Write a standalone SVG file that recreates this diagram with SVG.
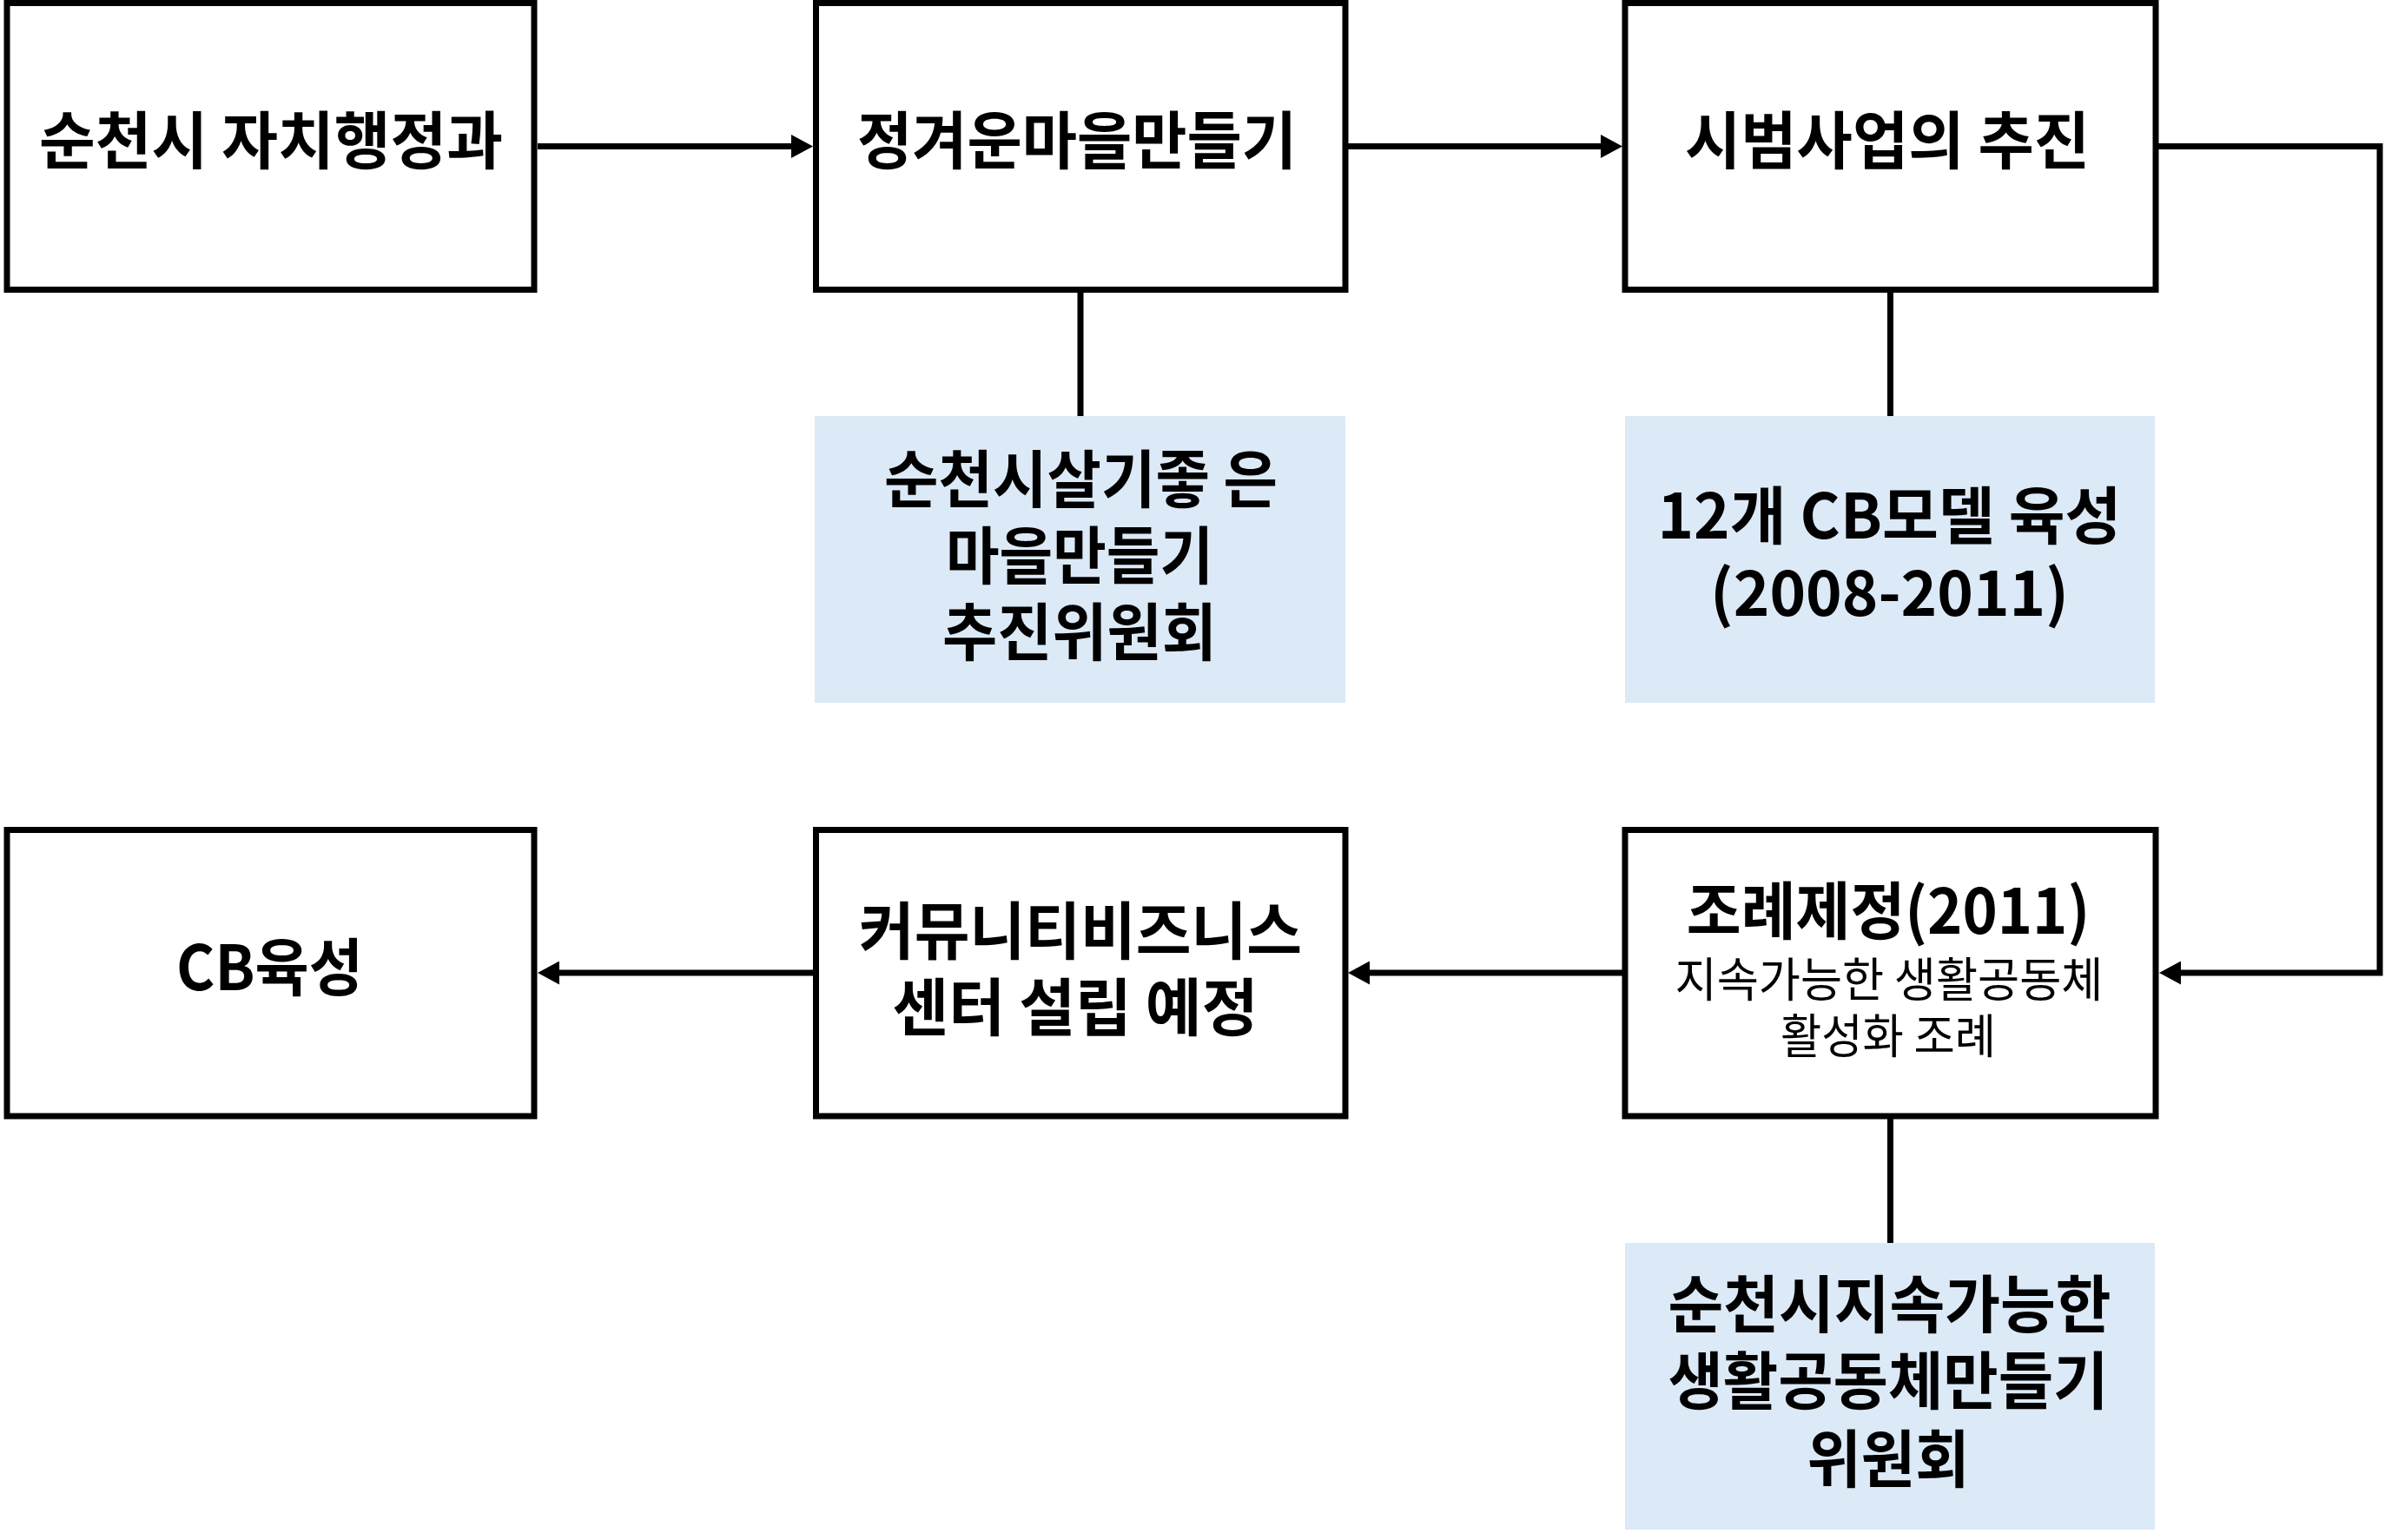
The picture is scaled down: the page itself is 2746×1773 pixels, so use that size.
<svg xmlns="http://www.w3.org/2000/svg" width="2746" height="1773" viewBox="0 0 2746 1773">
<style>
.box{fill:#ffffff;stroke:#000000;stroke-width:7}
.note{fill:#dce9f6;stroke:none}
.conn{fill:none;stroke:#000000;stroke-width:7;stroke-linejoin:miter}
text{font-family:"Noto Sans CJK KR","Noto Sans",sans-serif;fill:#000000;text-anchor:middle}
.b{font-size:72px;font-weight:700}
.r{font-size:54px;font-weight:400}
</style>
<defs>
<marker id="ah" markerUnits="userSpaceOnUse" markerWidth="25" markerHeight="27" refX="0" refY="13.5" orient="auto" viewBox="0 0 25 27">
<path d="M0,0 L25,13.5 L0,27 z" fill="#000000"/>
</marker>
</defs>
<rect width="2746" height="1773" fill="#ffffff"/>
<g id="connectors">
<path class="conn" d="M619 168.5 H911" marker-end="url(#ah)"/>
<path class="conn" d="M1552 168.5 H1843" marker-end="url(#ah)"/>
<path class="conn" d="M2485 168.5 H2740 V1120 H2511" marker-end="url(#ah)"/>
<path class="conn" d="M1868 1120 H1577" marker-end="url(#ah)"/>
<path class="conn" d="M936 1120 H644" marker-end="url(#ah)"/>
<path class="conn" d="M1244 337 V479"/>
<path class="conn" d="M2176.5 337 V479"/>
<path class="conn" d="M2176.5 1288 V1431"/>
</g>
<g id="node-1">
<rect class="box" x="8" y="3.5" width="607" height="330"/>
<text class="b" x="312" y="188" textLength="534" lengthAdjust="spacingAndGlyphs">순천시 자치행정과</text>
</g>
<g id="node-2">
<rect class="box" x="939.5" y="3.5" width="609.5" height="330"/>
<text class="b" x="1240" y="188" textLength="506" lengthAdjust="spacingAndGlyphs">정겨운마을만들기</text>
</g>
<g id="node-3">
<rect class="box" x="1871" y="3.5" width="611" height="330"/>
<text class="b" x="2173" y="188" textLength="466" lengthAdjust="spacingAndGlyphs">시범사업의 추진</text>
</g>
<g id="note-1">
<rect class="note" x="938" y="479" width="611" height="330"/>
<text class="b" x="1244.5" y="578" textLength="453" lengthAdjust="spacingAndGlyphs">순천시살기좋 은</text>
<text class="b" x="1243" y="666" textLength="308" lengthAdjust="spacingAndGlyphs">마을만들기</text>
<text class="b" x="1243" y="754" textLength="316" lengthAdjust="spacingAndGlyphs">추진위원회</text>
</g>
<g id="note-2">
<rect class="note" x="1871" y="479" width="610" height="330"/>
<text class="b" x="2175.5" y="620" textLength="534" lengthAdjust="spacingAndGlyphs">12개 CB모델 육성</text>
<text class="b" x="2175.5" y="709" textLength="413" lengthAdjust="spacingAndGlyphs">(2008-2011)</text>
</g>
<g id="node-4">
<rect class="box" x="8" y="955.5" width="607" height="329.5"/>
<text class="b" x="310.5" y="1140" textLength="215" lengthAdjust="spacingAndGlyphs">CB육성</text>
</g>
<g id="node-5">
<rect class="box" x="939.5" y="955.5" width="609.5" height="329.5"/>
<text class="b" x="1244" y="1098" textLength="510" lengthAdjust="spacingAndGlyphs">커뮤니티비즈니스</text>
<text class="b" x="1238" y="1186" textLength="421" lengthAdjust="spacingAndGlyphs">센터 설립 예정</text>
</g>
<g id="node-6">
<rect class="box" x="1871" y="955.5" width="611" height="329.5"/>
<text class="b" x="2174" y="1075" textLength="464.5" lengthAdjust="spacingAndGlyphs">조례제정(2011)</text>
<text class="r" x="2175" y="1148" textLength="493" lengthAdjust="spacingAndGlyphs">지속가능한 생활공동체</text>
<text class="r" x="2174" y="1213" textLength="248" lengthAdjust="spacingAndGlyphs">활성화 조례</text>
</g>
<g id="note-3">
<rect class="note" x="1871" y="1431" width="610" height="330"/>
<text class="b" x="2175.5" y="1528" textLength="510" lengthAdjust="spacingAndGlyphs">순천시지속가능한</text>
<text class="b" x="2174" y="1616" textLength="507" lengthAdjust="spacingAndGlyphs">생활공동체만들기</text>
<text class="b" x="2174" y="1706" textLength="187" lengthAdjust="spacingAndGlyphs">위원회</text>
</g>
</svg>
